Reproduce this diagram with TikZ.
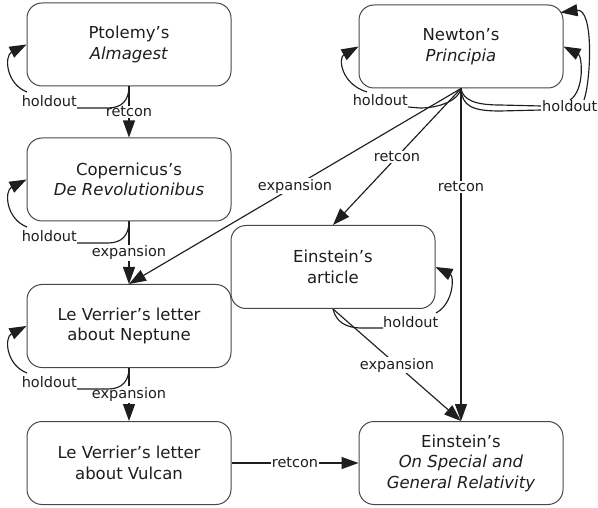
\documentclass[tikz,border=0pt]{standalone}
\usepackage{fontspec}
\setmainfont{DejaVu Sans}
\usetikzlibrary{arrows.meta}
\definecolor{ink}{HTML}{1E1E1E}
\definecolor{frame}{HTML}{484848}
\begin{document}
\begin{tikzpicture}[x=1pt,y=-1pt,
  box/.style={draw=frame, line width=1pt, rounded corners=15pt,
    minimum width=204pt, minimum height=83pt, align=center, inner sep=0pt,
    font=\fontsize{16.5}{20.5}\selectfont, text=ink},
  edge/.style={line width=1.15pt, draw=ink, -{Triangle[length=17pt,width=12pt]}},
  plain/.style={line width=1.15pt, draw=ink},
  lab/.style={font=\fontsize{14.5}{16}\selectfont, text=ink, fill=white, inner sep=1pt},
  hold/.style={font=\fontsize{14.5}{16}\selectfont, text=ink, inner sep=0pt}]
\useasboundingbox (0,0) rectangle (598,508);

% documents
\node[box] (pt)  at (129,44.5) {Ptolemy’s\\\textit{Almagest}};
\node[box] (nw)  at (461,46.5) {Newton’s\\\textit{Principia}};
\node[box] (co)  at (129,179.5) {Copernicus’s\\\textit{De Revolutionibus}};
\node[box] (ea)  at (333,267) {Einstein’s\\article};
\node[box] (lvn) at (129,326) {Le Verrier’s letter\\about Neptune};
\node[box] (lvv) at (129,463) {Le Verrier’s letter\\about Vulcan};
\node[box] (sgr) at (461,463) {Einstein’s\\\textit{On Special and}\\\textit{General Relativity}};

% straight relations
\draw[edge] (pt.south) -- node[lab] {retcon} (co.north);
\draw[edge] (co.south) -- node[lab] {expansion} (lvn.north);
\draw[edge] (lvn.south) -- node[lab] {expansion} (lvv.north);
\draw[edge] (lvv.east) -- node[lab] {retcon} (sgr.west);
\draw[edge] (nw.south) -- node[lab] {expansion} (lvn.north);
\draw[edge] (nw.south) -- node[lab] {retcon} (ea.north);
\draw[edge] (nw.south) -- node[lab, pos=0.296] {retcon} (sgr.north);
\draw[edge] (ea.south) -- node[lab] {expansion} (sgr.north);

% holdout loops, left column
\node[hold, anchor=base east] (hpt) at (77,107) {holdout};
\draw[plain] (pt.south) .. controls (129,100) and (122,108) .. (108,108) -- ([yshift=-1pt]hpt.base east);
\draw[edge] (27,92) .. controls (6,84) and (4,56) .. (pt.west);

\node[hold, anchor=base east] (hco) at (77,242) {holdout};
\draw[plain] (co.south) .. controls (129,235) and (122,243) .. (108,243) -- ([yshift=-1pt]hco.base east);
\draw[edge] (27,227) .. controls (6,219) and (4,191) .. (co.west);

\node[hold, anchor=base east] (hlvn) at (77,388) {holdout};
\draw[plain] (lvn.south) .. controls (129,381) and (122,389) .. (108,389) -- ([yshift=-1pt]hlvn.base east);
\draw[edge] (27,373) .. controls (6,365) and (4,337.5) .. (lvn.west);

% holdout loops around Newton
\node[hold, anchor=base east] (hnwl) at (408,106) {holdout};
\draw[plain] (nw.south) .. controls (459,100) and (440,108) .. (420,108) -- ([yshift=-1pt]hnwl.base east);
\draw[edge] (367,92) .. controls (341,84) and (338,58) .. (nw.west);

\node[hold, anchor=base west] (hnwr) at (542,112) {holdout};
\draw[plain] (nw.south) .. controls (463,100) and (475,105) .. (500,105) -- (541,106);
\draw[plain] (nw.south) .. controls (462,106) and (472,111) .. (500,111) -- (541,110);
\draw[edge] (570,100) .. controls (585,90) and (582,56) .. (nw.east);
\draw[edge] (584,100) .. controls (591,80) and (594,8) .. ([xshift=-3pt,yshift=-8pt]nw.north east);

% holdout loop of Einstein's article
\node[hold, anchor=base west] (hea) at (383,327) {holdout};
\draw[plain] (ea.south) .. controls (336,322) and (346,328) .. (362,328) -- ([yshift=-1pt]hea.base west);
\draw[edge] (436,313) .. controls (454,303) and (454,276) .. (ea.east);
\end{tikzpicture}
\end{document}
